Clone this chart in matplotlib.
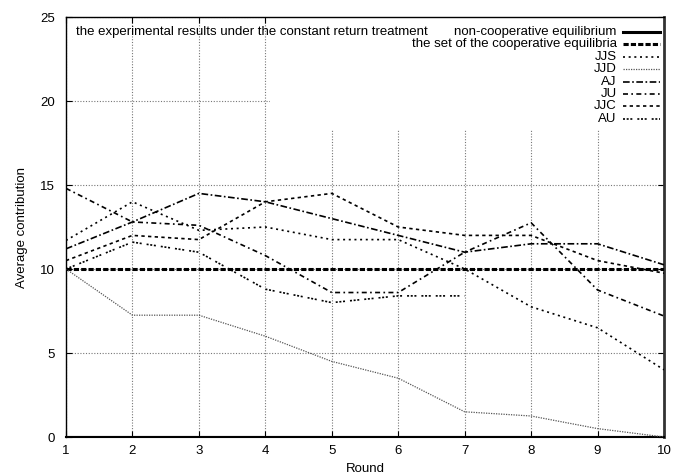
import numpy as np
from matplotlib import pyplot as plt
from matplotlib.patches import Rectangle

plt.rcParams['font.family'] = ['Liberation Sans', 'DejaVu Sans']

rounds = np.arange(1, 11)
non_coop = [0] * 10
coop = [10] * 10
jjs = [11.7, 14.0, 12.3, 12.5, 11.75, 11.75, 10.0, 7.75, 6.5, 4.0]
jjd = [10.0, 7.25, 7.25, 6.0, 4.5, 3.5, 1.5, 1.25, 0.5, 0.0]
aj = [11.2, 12.8, 14.5, 14.0, 13.0, 12.0, 11.0, 11.5, 11.5, 10.25]
ju = [14.8, 12.8, 12.6, 10.8, 8.6, 8.6, 11.0, 12.75, 8.75, 7.2]
jjc = [10.5, 12.0, 11.75, 14.0, 14.5, 12.5, 12.0, 12.0, 10.5, 9.75]
au = [10.0, 11.6, 11.0, 8.8, 8.0, 8.4, 8.4]

key_title = 'the experimental results under the constant return treatment'
fs = 9.5

# label, x, y, style
series = [
    ('non-cooperative equilibrium', rounds, non_coop, dict(color='black', lw=2.2, ls='-')),
    ('the set of the cooperative equilibria', rounds, coop, dict(color='black', lw=2.2, dashes=(1.7, 0.7))),
    ('JJS', rounds, jjs, dict(color='black', lw=1.2, dashes=(1.2, 2.2))),
    ('JJD', rounds, jjd, dict(color='#555555', lw=0.9, dashes=(1, 1))),
    ('AJ', rounds, aj, dict(color='black', lw=1.2, dashes=(4, 1.5, 1, 1.5))),
    ('JU', rounds, ju, dict(color='black', lw=1.2, dashes=(3, 2, 1, 2))),
    ('JJC', rounds, jjc, dict(color='black', lw=1.2, dashes=(2, 2))),
    ('AU', rounds[:len(au)], au, dict(color='black', lw=1.2, dashes=(1.2, 1, 1.2, 1, 1.2, 3))),
]

fig = plt.figure(figsize=(6.74, 4.75), dpi=100)
ax = fig.add_axes([66 / 674, 38 / 475, 598 / 674, 420 / 475])

ax.set_xlim(1, 10)
ax.set_ylim(0, 25)
ax.set_xticks(rounds)
ax.set_yticks([0, 5, 10, 15, 20, 25])
ax.tick_params(direction='in', top=True, right=True, length=4, width=0.8,
               labelsize=fs, colors='black')
ax.tick_params(axis='y', pad=8)
ax.tick_params(axis='x', pad=6)
ax.grid(True, color='#777777', lw=0.8, dashes=(1, 1.5))

for name in ['left', 'top']:
    ax.spines[name].set_linewidth(1.0)
ax.spines['right'].set_linewidth(2.0)
ax.spines['right'].set_color('#333333')
ax.spines['bottom'].set_linewidth(1.5)

ax.set_xlabel('Round', fontsize=fs)
ax.xaxis.set_label_coords(0.5, -0.062)
ax.set_ylabel('Average contribution', fontsize=fs)
ax.yaxis.set_label_coords(-0.064, 0.5)

for label, xs, ys, style in series:
    ax.plot(xs, ys, zorder=3, **style)

# opaque key area
ax.add_patch(Rectangle((0.341, 0.731), 0.659, 0.269, transform=ax.transAxes,
                       facecolor='white', edgecolor='none', zorder=2))

row0 = (437 - 32) / 420
step = 12.4 / 420
ax.text(0.0167, row0, key_title, transform=ax.transAxes, fontsize=fs,
        ha='left', va='center', zorder=4)
for i, (label, xs, ys, style) in enumerate(series):
    y = row0 - i * step
    ax.text(0.921, y, label, transform=ax.transAxes, fontsize=fs,
            ha='right', va='center', zorder=4)
    ax.plot([0.931, 0.993], [y, y], transform=ax.transAxes, clip_on=False,
            zorder=4, **style)

fig.savefig('out.png', dpi=100)
